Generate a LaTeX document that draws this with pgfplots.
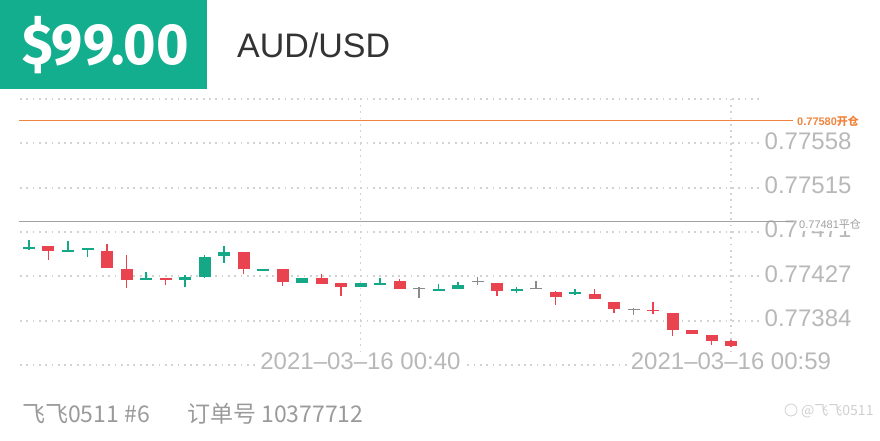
\documentclass[border=0pt]{standalone}
\usepackage{graphicx}
\usepackage{pgfplots}
\pgfplotsset{compat=1.18}
\usepackage{pgfplotstable}
\usepackage{fontspec}
\setmainfont{Liberation Sans}
\newfontfamily\cjk{Noto Sans CJK SC}
\newfontfamily\headfont{Fira Sans}
\definecolor{badge}{HTML}{12AE8E}
\definecolor{upc}{HTML}{15A887}
\definecolor{downc}{HTML}{E8434F}
\definecolor{dojic}{HTML}{8A8A8A}
\definecolor{gridc}{HTML}{D2D2D2}
\definecolor{tickc}{HTML}{B8B8B8}
\definecolor{openc}{HTML}{F0843F}
\definecolor{closec}{HTML}{A0A0A0}
\definecolor{darkt}{HTML}{333333}
\definecolor{bott}{HTML}{9A9A9A}
\definecolor{wmc}{HTML}{CFCFCF}

% columns: minute index (0 = 00:23), open, high, low, close
\pgfplotstableread{
x  o        h        l        c
0  0.774544 0.774642 0.774544 0.774563
2  0.774524 0.774622 0.774524 0.774544
3  0.774534 0.774554 0.774485 0.774554
6  0.774251 0.774329 0.774251 0.774270
8  0.774241 0.774290 0.774172 0.774270
9  0.774270 0.774495 0.774270 0.774466
10 0.774475 0.774573 0.774407 0.774514
12 0.774339 0.774358 0.774339 0.774358
14 0.774211 0.774260 0.774211 0.774260
17 0.774172 0.774221 0.774172 0.774221
18 0.774202 0.774260 0.774202 0.774221
21 0.774143 0.774202 0.774143 0.774163
22 0.774163 0.774231 0.774163 0.774202
25 0.774133 0.774172 0.774114 0.774153
28 0.774104 0.774163 0.774104 0.774123
}\upt

\pgfplotstableread{
x  o        h        l        c
1  0.774583 0.774583 0.774446 0.774534
4  0.774544 0.774593 0.774368 0.774368
5  0.774348 0.774495 0.774172 0.774241
7  0.774260 0.774260 0.774192 0.774241
11 0.774514 0.774514 0.774309 0.774348
13 0.774348 0.774348 0.774192 0.774221
15 0.774270 0.774299 0.774211 0.774211
16 0.774211 0.774211 0.774094 0.774172
19 0.774231 0.774260 0.774153 0.774153
24 0.774211 0.774211 0.774094 0.774133
27 0.774133 0.774133 0.773996 0.774084
29 0.774104 0.774153 0.774055 0.774055
30 0.774026 0.774026 0.773918 0.773957
32 0.773957 0.774016 0.773899 0.773938
33 0.773928 0.773928 0.773703 0.773762
34 0.773752 0.773752 0.773713 0.773713
35 0.773703 0.773703 0.773605 0.773645
36 0.773645 0.773664 0.773596 0.773596
}\downt

\pgfplotstableread{
x  o        h        l        c
20 0.774153 0.774192 0.774084 0.774153
23 0.774221 0.774270 0.774192 0.774221
26 0.774153 0.774241 0.774153 0.774153
31 0.773948 0.773967 0.773908 0.773948
}\dojit

\pgfplotsset{
  candle/.style 2 args={draw=none, mark=none, mark options={draw=none, fill=none},
    error bars/.cd, y dir=both, y explicit, error mark=none,
    error bar style={draw=#1, line width=#2}},
}

\begin{document}
\begin{tikzpicture}
\path[use as bounding box] (0,0) rectangle (880pt,440pt);
% header
\fill[badge] (0,351pt) rectangle (207pt,440pt);
\node[anchor=base west, inner sep=0, text=white] at (22pt,375pt)
  {\scalebox{0.96}[1]{\headfont\bfseries\fontsize{58}{60}\selectfont \$99.00}};
\node[anchor=base west, inner sep=0, text=darkt, font=\fontsize{34}{40}\selectfont] at (237pt,382pt) {AUD/USD};

\begin{axis}[
  at={(20pt,75pt)}, anchor=south west,
  scale only axis, width=743pt, height=266pt,
  xmin=-0.4615, xmax=37.641,
  ymin=0.773405, ymax=0.776015,
  clip=false,
  axis line style={draw=none},
  major tick length=0pt,
  xtick={17,36}, xticklabels={2021--03--16 00:40,2021--03--16 00:59},
  ytick={0.773405,0.77384,0.774275,0.77471,0.775145,0.77558,0.776015},
  yticklabels={,0.77384,0.77427,0.77471,0.77515,0.77558,},
  yticklabel pos=right,
  xmajorgrids, ymajorgrids,
  major grid style={gridc, line width=1.8pt, dash pattern=on 1.8pt off 4.5pt},
  yticklabel style={anchor=west, font=\fontsize{24}{28}\selectfont, text=tickc, fill=white, inner sep=1.5pt, yshift=2.5pt},
  xticklabel style={anchor=center, font=\fontsize{24}{28}\selectfont, text=tickc, fill=white, inner xsep=3pt, inner ysep=1pt, yshift=4pt},
]
% position lines
\addplot[color=openc, line width=1pt] coordinates {(-0.51,0.77580) (39.18,0.77580)};
\addplot[color=closec, line width=1pt] coordinates {(-0.51,0.77481) (39.18,0.77481)};
\coordinate (oend) at (axis cs:39.18,0.77580);
\coordinate (cend) at (axis cs:39.18,0.77481);

% wicks
\addplot[candle={upc}{1.3pt}]
  table[x=x, y expr={(\thisrow{h}+\thisrow{l})/2}, y error plus expr={(\thisrow{h}-\thisrow{l})/2}, y error minus expr={(\thisrow{h}-\thisrow{l})/2}] {\upt};
\addplot[candle={downc}{1.3pt}]
  table[x=x, y expr={(\thisrow{h}+\thisrow{l})/2}, y error plus expr={(\thisrow{h}-\thisrow{l})/2}, y error minus expr={(\thisrow{h}-\thisrow{l})/2}] {\downt};
\addplot[candle={dojic}{1.2pt}]
  table[x=x, y expr={(\thisrow{h}+\thisrow{l})/2}, y error plus expr={(\thisrow{h}-\thisrow{l})/2}, y error minus expr={(\thisrow{h}-\thisrow{l})/2}] {\dojit};
% bodies
\addplot[candle={upc}{12pt}]
  table[x=x, y expr={(\thisrow{o}+\thisrow{c})/2}, y error plus expr={abs(\thisrow{c}-\thisrow{o})/2}, y error minus expr={abs(\thisrow{c}-\thisrow{o})/2}] {\upt};
\addplot[candle={downc}{12pt}]
  table[x=x, y expr={(\thisrow{o}+\thisrow{c})/2}, y error plus expr={abs(\thisrow{c}-\thisrow{o})/2}, y error minus expr={abs(\thisrow{c}-\thisrow{o})/2}] {\downt};
\addplot[only marks, mark=-, mark size=6pt, mark options={draw=dojic, line width=1.2pt}]
  table[x=x, y=o] {\dojit};
\end{axis}

\node[anchor=west, inner sep=1pt, text=openc, font=\bfseries\fontsize{11}{12}\selectfont] at ([xshift=3pt]oend) {0.77580{\cjk 开仓}};
\node[anchor=west, inner sep=1pt, fill=white, text=closec, font=\fontsize{11}{12}\selectfont] at ([xshift=5pt,yshift=-3pt]cend) {0.77481{\cjk 平仓}};

% footer
\node[anchor=base west, inner sep=0, text=bott, font=\cjk\fontsize{23}{26}\selectfont] at (22pt,18pt) {飞飞0511 \#6};
\node[anchor=base west, inner sep=0, text=bott, font=\cjk\fontsize{23}{26}\selectfont] at (187pt,18pt) {订单号 10377712};
\draw[wmc, line width=0.8pt] (791pt,30pt) circle (6pt);
\node[anchor=base west, inner sep=0, text=wmc, font=\cjk\fontsize{14}{16}\selectfont] at (801pt,25pt) {@飞飞0511};
\end{tikzpicture}
\end{document}
